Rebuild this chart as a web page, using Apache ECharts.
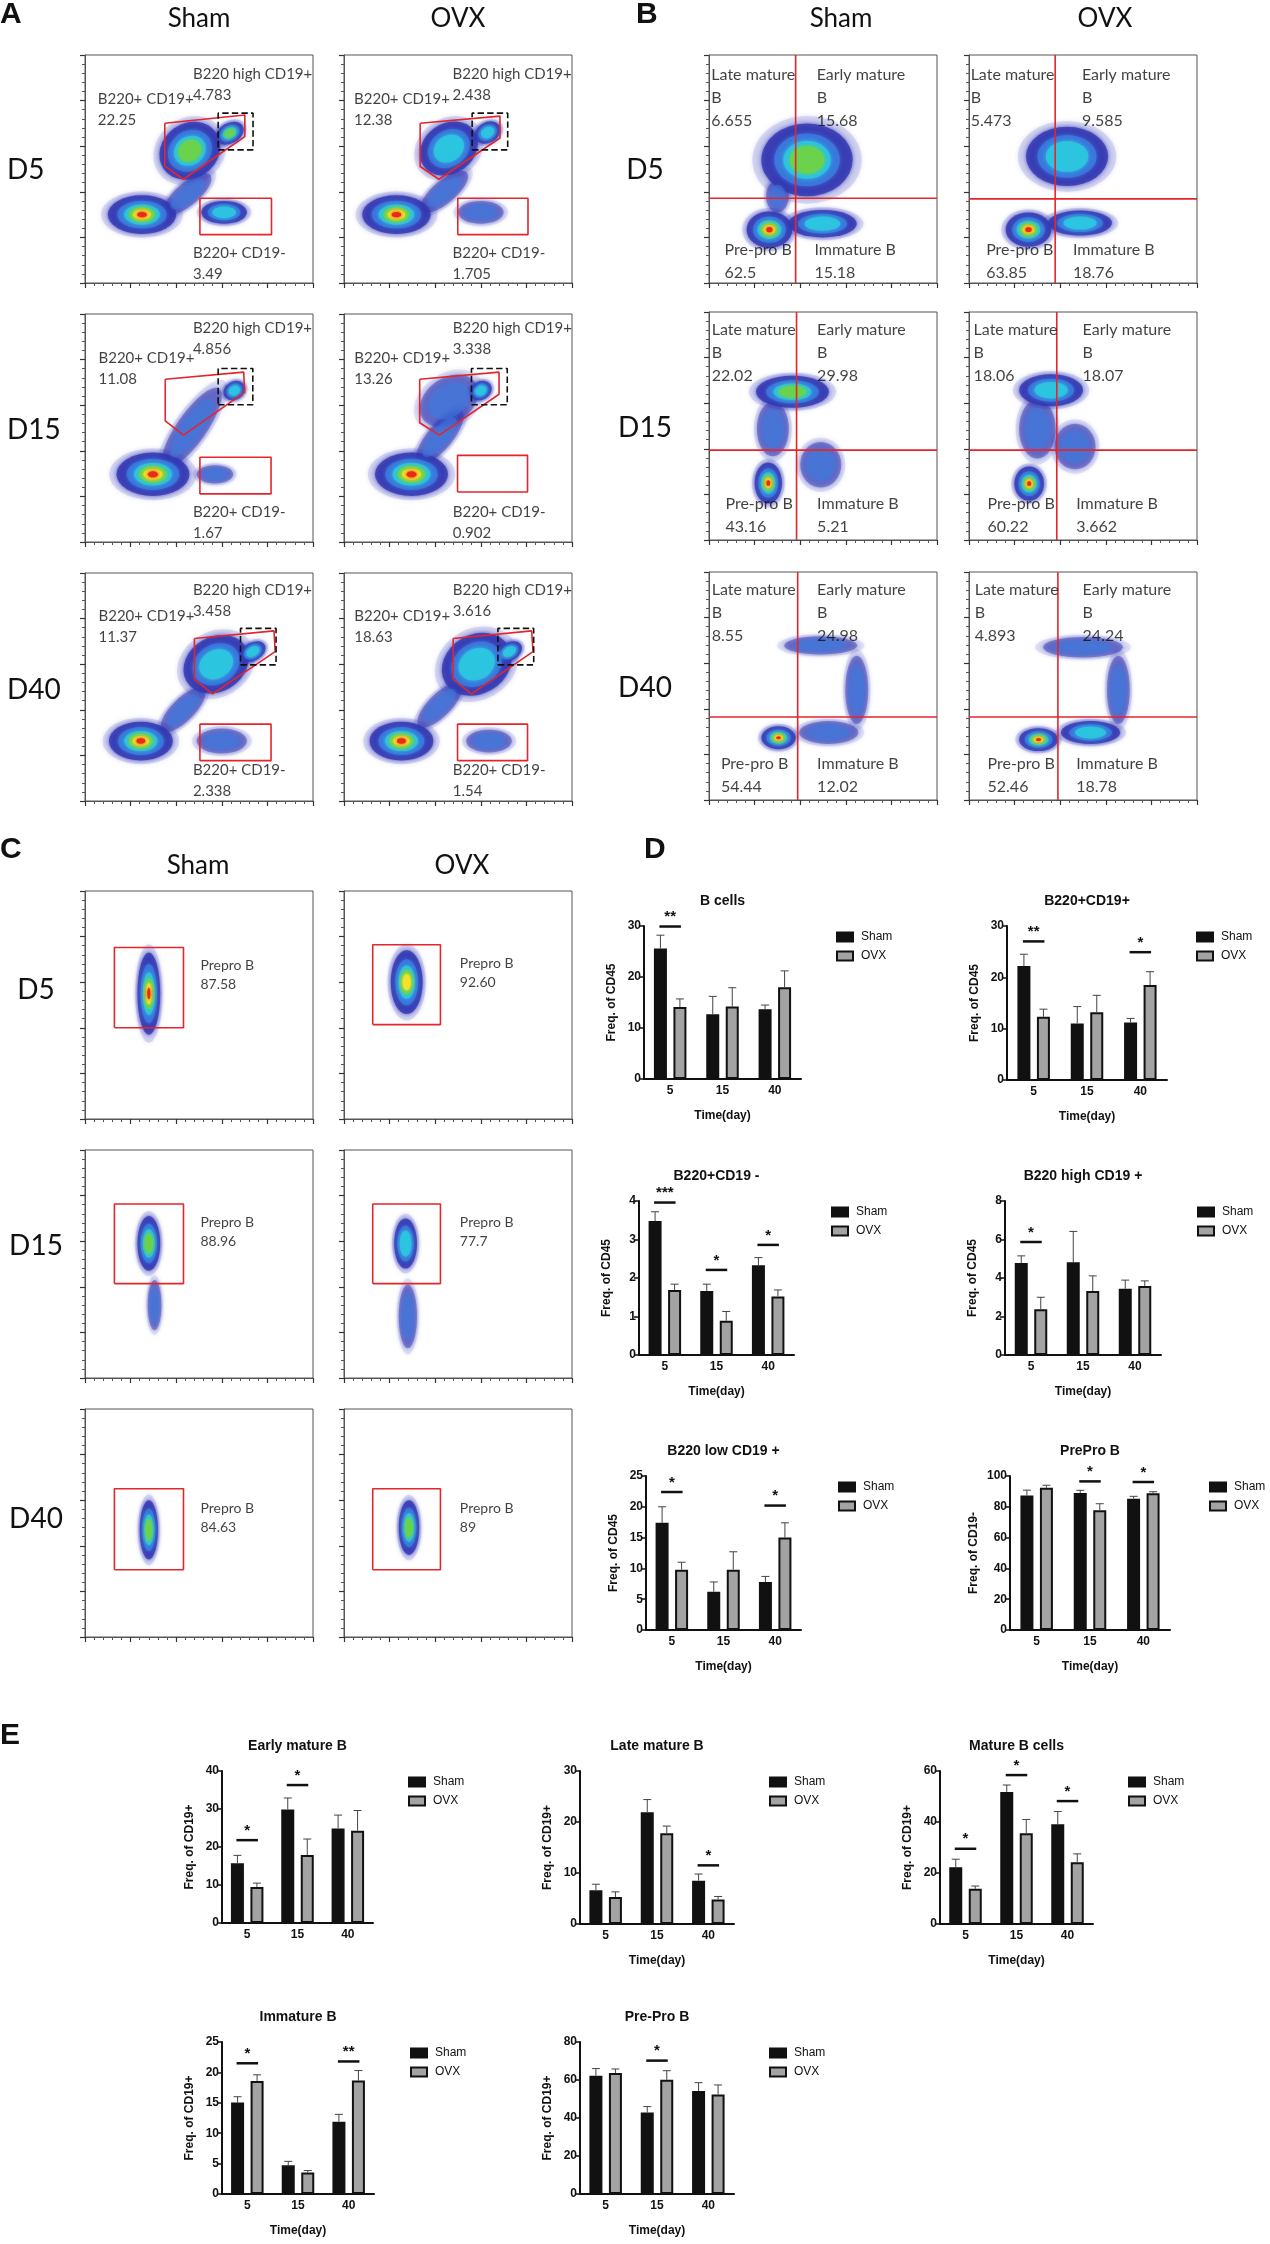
<!DOCTYPE html>
<html>
<head>
<meta charset="utf-8">
<script src="https://cdn.jsdelivr.net/npm/echarts@6/dist/echarts.min.js"></script>
<style>
  html, body { margin: 0; background: #fff; }
  #fig { width: 1270px; height: 2244px; }
</style>
</head>
<body>
<div id="fig"></div>
<script>
(function() {
  var arial = "'Liberation Sans', Arial, sans-serif";
  var lato = "Lato, 'Open Sans', sans-serif";

  // --- flow plots (A: 0-5, B: 6-11, C: 12-17), coordinates in % of the box ---
  var flowLeft = [85, 344, 85, 344, 85, 344, 709, 969, 709, 969, 709, 969, 85, 344, 85, 344, 85, 344];
  var flowTop = [55, 55, 314, 314, 573, 573, 55, 55, 312, 312, 572, 572, 891, 891, 1150, 1150, 1409, 1409];
  var FS = 228, PPU = FS / 100;

  // [panel, x, y, width, height, rotation, density level]
  var flowPops = [
    [0, 25, 30, 30, 17, 0, 5], [0, 45, 39, 26, 10, 40, 1], [0, 46, 58, 28, 24, 35, 3], [0, 63.5, 65.7, 13, 9, 30, 3], [0, 61, 31, 20, 10, 0, 2],
    [1, 23, 30, 30, 17, 0, 5], [1, 44, 40, 26, 10, 40, 1], [1, 46, 59, 27, 22, 35, 2], [1, 63, 66, 12, 9, 30, 2], [1, 60, 31, 20, 10, 0, 1],
    [2, 29.8, 29.7, 32, 19, 0, 5], [2, 46.8, 50, 42, 13, 55, 1], [2, 65.5, 66.4, 10, 8, 30, 2], [2, 57, 29.7, 16, 8, 0, 1],
    [3, 29.6, 29.7, 32, 19, 0, 5], [3, 42, 46, 30, 11, 50, 1], [3, 46, 62, 28, 20, 35, 1], [3, 60, 66.4, 10, 8, 30, 2],
    [4, 24.5, 26.3, 28, 17, 0, 5], [4, 43, 40, 26, 10, 45, 1], [4, 57.5, 60, 30, 24, 30, 2], [4, 73.6, 65.5, 12, 8, 30, 2], [4, 60, 26.3, 22, 11, 0, 1],
    [5, 25.2, 26.3, 28, 17, 0, 5], [5, 42, 42, 26, 10, 45, 1], [5, 58.2, 60, 32, 26, 30, 2], [5, 72.5, 65.5, 12, 8, 30, 2], [5, 63.6, 26.3, 20, 10, 0, 1],
    [6, 26.5, 23.4, 20, 16, 0, 5], [6, 49.8, 26, 30, 12, 0, 2], [6, 43, 54, 40, 32, 0, 3], [6, 30, 38, 10, 14, 0, 1],
    [7, 26.1, 23.4, 20, 15, 0, 5], [7, 48.7, 26.3, 28, 11, 0, 2], [7, 43, 55.5, 36, 26, 0, 2],
    [8, 26, 25, 12, 18, 0, 5], [8, 36.6, 65, 32, 14, 0, 3], [8, 28, 48.7, 14, 24, 0, 1], [8, 49, 33, 18, 20, 0, 1],
    [9, 26.4, 24.7, 13, 15, 0, 5], [9, 36, 65.7, 28, 14, 0, 2], [9, 30, 48.7, 16, 26, 0, 1], [9, 46.5, 41, 18, 20, 0, 1],
    [10, 30.5, 27.3, 15, 10, 0, 5], [10, 52.5, 29.6, 26, 10, 0, 1], [10, 49, 67.8, 32, 8, 0, 1], [10, 64.8, 48.3, 10, 30, 0, 1],
    [11, 30.5, 26.5, 17, 10, 0, 5], [11, 53.3, 29.6, 26, 10, 0, 2], [11, 50, 67, 35, 9, 0, 1], [11, 65.5, 48.3, 10, 30, 0, 1],
    [12, 28, 55, 10, 36, 0, 5],
    [13, 27.5, 60, 14, 28, 0, 4],
    [14, 28, 59, 10, 24, 0, 3], [14, 30.5, 32, 6, 22, 0, 1],
    [15, 27, 59, 10, 22, 0, 2], [15, 28, 27, 8, 28, 0, 1],
    [16, 28, 47, 8, 26, 0, 3],
    [17, 28.5, 48, 9, 24, 0, 3]
  ];

  var gatePolys = [
    [0, [[35, 70.1], [70.1, 73.7], [70.1, 64.2], [43.1, 45.5], [35, 51.4]]],
    [1, [[33.4, 70.1], [68.4, 73.2], [68.4, 63.6], [41.6, 45.5], [33.4, 51.1]]],
    [2, [[35.2, 71.4], [69.6, 74.5], [70, 65.6], [43.2, 46.9], [35.2, 53.1]]],
    [3, [[33.2, 71.4], [68, 74.5], [68, 64.8], [41.8, 46.9], [33.2, 52.3]]],
    [4, [[48, 71.3], [82.9, 74.6], [83.4, 65.5], [56, 47], [48, 53.3]]],
    [5, [[47.9, 71.3], [82.3, 74.6], [82.9, 65.5], [55.9, 47], [47.9, 53.3]]]
  ];
  // [panel, x0, x1, y0, y1]
  var dashRects = [
    [0, 58.4, 73.7, 58.4, 74.5], [1, 56.2, 71.8, 58.4, 74.5], [2, 58.4, 73.6, 60.2, 76.1],
    [3, 55.9, 71.6, 60.2, 76.1], [4, 68.2, 83.8, 59.7, 75.7], [5, 67.5, 83.2, 59.7, 75.7]
  ];
  var redRects = [
    [0, 50.4, 81.8, 21.2, 37.2], [1, 49.9, 80.7, 21.2, 37.2], [2, 50.4, 81.6, 21.1, 37.2],
    [3, 49.8, 80.5, 21.9, 38], [4, 50.4, 81.6, 17.7, 33.7], [5, 49.8, 80.5, 17.7, 33.7],
    [12, 12.9, 43.2, 40, 75.2], [13, 12.6, 42.3, 41.4, 76.4], [14, 12.9, 43.2, 41.4, 76.3],
    [15, 12.6, 42.3, 41.4, 76.3], [16, 12.9, 43.2, 29.5, 65], [17, 12.6, 42.3, 29.5, 65]
  ];
  // [panel, x line, y line]
  var quadLines = [[6, 38, 37.2], [7, 37.8, 36.9], [8, 38.4, 39.4], [9, 38.5, 39.4], [10, 38.9, 36.4], [11, 39, 36.4]];

  var flowLabels = [
    [0, 47.2, 87, 'B220 high CD19+\n4.783'], [0, 5.4, 76, 'B220+ CD19+\n22.25'], [0, 47.2, 8.5, 'B220+ CD19-\n3.49'],
    [1, 47.4, 87, 'B220 high CD19+\n2.438'], [1, 4.2, 76, 'B220+ CD19+\n12.38'], [1, 47.4, 8.5, 'B220+ CD19-\n1.705'],
    [2, 47.1, 89, 'B220 high CD19+\n4.856'], [2, 5.7, 76, 'B220+ CD19+\n11.08'], [2, 47.1, 8.3, 'B220+ CD19-\n1.67'],
    [3, 47.5, 89, 'B220 high CD19+\n3.338'], [3, 4.3, 76, 'B220+ CD19+\n13.26'], [3, 47.5, 8.3, 'B220+ CD19-\n0.902'],
    [4, 47.1, 88, 'B220 high CD19+\n3.458'], [4, 5.7, 76.5, 'B220+ CD19+\n11.37'], [4, 47.1, 9, 'B220+ CD19-\n2.338'],
    [5, 47.5, 88, 'B220 high CD19+\n3.616'], [5, 4.3, 76.5, 'B220+ CD19+\n18.63'], [5, 47.5, 9, 'B220+ CD19-\n1.54'],
    [6, 0.8, 81, 'Late mature\nB\n6.655'], [6, 47, 81, 'Early mature\nB\n15.68'], [6, 6.6, 9.5, 'Pre-pro B\n62.5'], [6, 46, 9.5, 'Immature B\n15.18'],
    [7, 0.5, 81, 'Late mature\nB\n5.473'], [7, 49.3, 81, 'Early mature\nB\n9.585'], [7, 7.3, 9.5, 'Pre-pro B\n63.85'], [7, 45.4, 9.5, 'Immature B\n18.76'],
    [8, 1, 82, 'Late mature\nB\n22.02'], [8, 47.2, 82, 'Early mature\nB\n29.98'], [8, 7, 11, 'Pre-pro B\n43.16'], [8, 47.2, 11, 'Immature B\n5.21'],
    [9, 1.8, 82, 'Late mature\nB\n18.06'], [9, 49.6, 82, 'Early mature\nB\n18.07'], [9, 7.9, 11, 'Pre-pro B\n60.22'], [9, 46.8, 11, 'Immature B\n3.662'],
    [10, 1, 82, 'Late mature\nB\n8.55'], [10, 47.2, 82, 'Early mature\nB\n24.98'], [10, 5, 11, 'Pre-pro B\n54.44'], [10, 47.2, 11, 'Immature B\n12.02'],
    [11, 2.3, 82, 'Late mature\nB\n4.893'], [11, 49.6, 82, 'Early mature\nB\n24.24'], [11, 7.9, 11, 'Pre-pro B\n52.46'], [11, 46.8, 11, 'Immature B\n18.78'],
    [12, 50.4, 63, 'Prepro B\n87.58'], [13, 50.6, 64, 'Prepro B\n92.60'], [14, 50.4, 64, 'Prepro B\n88.96'],
    [15, 50.6, 64, 'Prepro B\n77.7'], [16, 50.4, 52, 'Prepro B\n84.63'], [17, 50.6, 52, 'Prepro B\n89']
  ];

  // --- bar charts (D: 0-5, E: 6-10) ---
  var days = ['5', '15', '40'];
  var barTitles = ['B cells', 'B220+CD19+', 'B220+CD19 -', 'B220 high CD19 +', 'B220 low CD19 +', 'PrePro B',
                   'Early mature B', 'Late mature B', 'Mature B cells', 'Immature B', 'Pre-Pro B'];
  var barYNames = ['Freq. of CD45', 'Freq. of CD45', 'Freq. of CD45', 'Freq. of CD45', 'Freq. of CD45', 'Freq. of CD19-',
                   'Freq. of CD19+', 'Freq. of CD19+', 'Freq. of CD19+', 'Freq. of CD19+', 'Freq. of CD19+'];
  var barYMax = [30, 30, 4, 8, 25, 100, 40, 30, 60, 25, 80];
  var barYStep = [10, 10, 1, 2, 5, 20, 10, 10, 20, 5, 20];
  var shamMean = [
    [25.6, 12.7, 13.7], [22.2, 11.0, 11.2], [3.48, 1.66, 2.33], [4.78, 4.82, 3.44], [17.4, 6.2, 7.8], [87.3, 89.0, 85.3],
    [15.7, 29.9, 24.9], [6.6, 21.9, 8.5], [22.3, 51.8, 39.1], [15.05, 4.71, 11.9], [62.2, 42.9, 54.2]
  ];
  var shamErr = [
    [2.6, 3.5, 0.8], [2.3, 3.3, 0.8], [0.24, 0.18, 0.2], [0.37, 1.6, 0.45], [2.6, 1.6, 0.9], [3.5, 1.7, 1.5],
    [2.1, 3.0, 3.5], [1.2, 2.5, 1.3], [3.1, 2.7, 5.0], [0.95, 0.66, 1.2], [3.8, 3.1, 4.4]
  ];
  var ovxMean = [
    [14.1, 14.2, 18.0], [12.3, 13.2, 18.5], [1.69, 0.89, 1.52], [2.38, 3.32, 3.59], [9.8, 9.8, 15.0], [92.4, 77.8, 88.8],
    [9.5, 17.9, 24.3], [5.3, 17.8, 4.8], [13.8, 35.6, 24.2], [18.6, 3.53, 18.65], [63.7, 60.1, 52.4]
  ];
  var ovxErr = [
    [1.6, 3.7, 3.2], [1.5, 3.3, 2.6], [0.15, 0.24, 0.17], [0.62, 0.79, 0.26], [1.2, 2.9, 2.4], [1.6, 4.2, 1.0],
    [1.0, 4.2, 5.3], [1.0, 1.4, 0.6], [1.1, 5.4, 3.3], [1.0, 0.33, 1.65], [2.1, 4.8, 5.0]
  ];
  // [day index, bracket height, stars]
  var sigMarks = [
    [[0, 29.9, '**']], [[0, 27.0, '**'], [2, 24.9, '*']], [[0, 3.96, '***'], [1, 2.21, '*'], [2, 2.86, '*']],
    [[0, 5.87, '*']], [[0, 22.4, '*'], [2, 20.2, '*']], [[1, 96.5, '*'], [2, 96.1, '*']],
    [[0, 21.8, '*'], [1, 36.3, '*']], [[2, 11.5, '*']], [[0, 29.5, '*'], [1, 58.4, '*'], [2, 48.2, '*']],
    [[0, 21.5, '*'], [2, 21.8, '**']], [[1, 70.2, '*']]
  ];

  var barBox = [[644, 926, 157, 153], [1007, 926, 160, 154], [639, 1201, 155, 154], [1005, 1201, 156, 154],
                [646, 1476, 155, 154], [1010, 1476, 160, 154], [222, 1771, 151, 152], [580, 1771, 154, 153],
                [940, 1771, 153, 153], [222, 2042, 152, 152], [580, 2042, 154, 152]];
  var legendAt = [[836, 931], [1196, 931], [831, 1206], [1197, 1206], [838, 1481], [1209, 1481],
                  [408, 1776], [769, 1776], [1128, 1776], [410, 2047], [769, 2047]];

  var ringScale = [1.2, 1, 0.72, 0.52, 0.38, 0.26, 0.14];
  var ringColor = ['#4a53c6', '#3337b2', '#3b7ade', '#2cc5e0', '#6bd24a', '#f2e12c', '#ea2b19'];
  var ringAlpha = [0.16, 0.8, 0.85, 0.9, 0.92, 0.95, 1];

  var grids = [], xAxes = [], yAxes = [], series = [], legends = [], texts = [];

  function densityData(panel) {
    var out = [];
    flowPops.forEach(function(p) {
      if (p[0] !== panel) return;
      for (var r = 0; r <= p[6] + 1 && r < ringScale.length; r++) {
        var a = ringAlpha[r];
        if (p[6] === 1) a = r === 0 ? 0.12 : 0.45;
        out.push({
          ring: r,
          value: [p[1], p[2]],
          symbolSize: [p[3] * ringScale[r] * PPU, p[4] * ringScale[r] * PPU],
          symbolRotate: p[5],
          itemStyle: { color: ringColor[r], opacity: a, shadowBlur: 4, shadowColor: ringColor[r] }
        });
      }
    });
    out.sort(function(a, b) { return a.ring - b.ring; });
    return out;
  }

  function flowAxis(i) {
    return {
      gridIndex: i, type: 'value', min: 0, max: 100, interval: 20,
      axisLine: { show: true, onZero: false, lineStyle: { color: '#555', width: 1 } },
      axisTick: { show: true, length: 5, lineStyle: { color: '#333', width: 1.2 } },
      minorTick: { show: true, splitNumber: 5, length: 3, lineStyle: { color: '#555' } },
      axisLabel: { show: false },
      splitLine: { show: false }
    };
  }

  function gateLine(panel, pts, color, type) {
    return {
      type: 'line', xAxisIndex: panel, yAxisIndex: panel, data: pts, symbol: 'none', silent: true, z: 5,
      lineStyle: { color: color, width: 1.6, type: type }
    };
  }

  function rectPts(r) {
    return [[r[1], r[3]], [r[2], r[3]], [r[2], r[4]], [r[1], r[4]], [r[1], r[3]]];
  }

  for (var i = 0; i < 18; i++) {
    grids.push({ left: flowLeft[i], top: flowTop[i], width: FS, height: FS, show: true, borderColor: '#555', borderWidth: 1 });
    xAxes.push(flowAxis(i));
    yAxes.push(flowAxis(i));
    series.push({ type: 'scatter', xAxisIndex: i, yAxisIndex: i, silent: true, z: 2, data: densityData(i) });
    var fsz = i < 6 ? 15 : (i < 12 ? 16 : 14);
    var flh = i < 6 ? 21 : (i < 12 ? 23 : 19);
    series.push({
      type: 'scatter', xAxisIndex: i, yAxisIndex: i, silent: true, z: 6, symbolSize: 1,
      itemStyle: { color: 'rgba(0,0,0,0)' },
      data: flowLabels.filter(function(l) { return l[0] === i; }).map(function(l) {
        return { value: [l[1], l[2]], name: l[3] };
      }),
      label: { show: true, position: 'right', distance: 0, formatter: '{b}', color: '#111',
               fontFamily: lato, fontSize: fsz, lineHeight: flh }
    });
  }
  gatePolys.forEach(function(g) { series.push(gateLine(g[0], g[1].concat([g[1][0]]), '#e3262b', 'solid')); });
  dashRects.forEach(function(r) { series.push(gateLine(r[0], rectPts(r), '#111', 'dashed')); });
  redRects.forEach(function(r) { series.push(gateLine(r[0], rectPts(r), '#e3262b', 'solid')); });
  quadLines.forEach(function(q) {
    series.push(gateLine(q[0], [[q[1], 0], [q[1], 100]], '#e3262b', 'solid'));
    series.push(gateLine(q[0], [[0, q[2]], [100, q[2]]], '#e3262b', 'solid'));
  });

  var BW = 13, GAP = 0.5, OFF = BW * (1 + GAP) / 2;

  function errRender(offset) {
    return function(params, api) {
      var idx = api.value(0), mean = api.value(1), err = api.value(2);
      var base = api.coord([idx, mean]);
      var top = api.coord([idx, mean + err]);
      var x = base[0] + offset;
      return {
        type: 'group',
        children: [
          { type: 'line', shape: { x1: x, y1: base[1], x2: x, y2: top[1] }, style: { stroke: '#444', lineWidth: 1 } },
          { type: 'line', shape: { x1: x - 4, y1: top[1], x2: x + 4, y2: top[1] }, style: { stroke: '#444', lineWidth: 1 } }
        ]
      };
    };
  }

  function sigRender(marks) {
    return function(params, api) {
      var p = api.coord([api.value(0), api.value(1)]);
      return {
        type: 'group',
        children: [
          { type: 'line', shape: { x1: p[0] - OFF - 1, y1: p[1], x2: p[0] + OFF + 1, y2: p[1] }, style: { stroke: '#111', lineWidth: 2.5 } },
          { type: 'text', x: p[0], y: p[1] - 2,
            style: { text: marks[params.dataIndex][2], fill: '#111', font: 'bold 15px ' + arial, align: 'center', verticalAlign: 'bottom' } }
        ]
      };
    };
  }

  for (var c = 0; c < 11; c++) {
    var gi = 18 + c, b = barBox[c];
    grids.push({ left: b[0], top: b[1], width: b[2], height: b[3] });
    xAxes.push({
      gridIndex: gi, type: 'category', data: days,
      axisLine: { lineStyle: { color: '#111', width: 2 } },
      axisTick: { alignWithLabel: true, length: 5, lineStyle: { color: '#111', width: 1.5 } },
      axisLabel: { color: '#111', fontWeight: 'bold', fontFamily: arial, fontSize: 12, margin: 6 },
      name: c === 6 ? '' : 'Time(day)', nameLocation: 'middle', nameGap: 31,
      nameTextStyle: { color: '#111', fontWeight: 'bold', fontFamily: arial, fontSize: 12 }
    });
    yAxes.push({
      gridIndex: gi, type: 'value', min: 0, max: barYMax[c], interval: barYStep[c],
      axisLine: { show: true, lineStyle: { color: '#111', width: 2 } },
      axisTick: { show: true, length: 5, lineStyle: { color: '#111', width: 1.5 } },
      axisLabel: { color: '#111', fontWeight: 'bold', fontFamily: arial, fontSize: 12, margin: 3 },
      splitLine: { show: false },
      name: barYNames[c], nameLocation: 'middle', nameGap: barYMax[c] >= 100 ? 30 : 26,
      nameTextStyle: { color: '#111', fontWeight: 'bold', fontFamily: arial, fontSize: 12 }
    });
    series.push({
      name: 'Sham', type: 'bar', xAxisIndex: gi, yAxisIndex: gi, data: shamMean[c], barWidth: BW, barGap: (GAP * 100) + '%', z: 2,
      itemStyle: { color: '#111', borderColor: '#111', borderWidth: 1.5 }
    });
    series.push({
      name: 'OVX', type: 'bar', xAxisIndex: gi, yAxisIndex: gi, data: ovxMean[c], barWidth: BW, z: 2,
      itemStyle: { color: '#a3a3a3', borderColor: '#111', borderWidth: 2 }
    });
    series.push({
      type: 'custom', xAxisIndex: gi, yAxisIndex: gi, silent: true, z: 3, renderItem: errRender(-OFF),
      data: shamMean[c].map(function(v, k) { return [k, v, shamErr[c][k]]; })
    });
    series.push({
      type: 'custom', xAxisIndex: gi, yAxisIndex: gi, silent: true, z: 3, renderItem: errRender(OFF),
      data: ovxMean[c].map(function(v, k) { return [k, v, ovxErr[c][k]]; })
    });
    series.push({
      type: 'custom', xAxisIndex: gi, yAxisIndex: gi, silent: true, z: 4, renderItem: sigRender(sigMarks[c]),
      data: sigMarks[c].map(function(m) { return [m[0], m[1]]; })
    });
    legends.push({
      data: ['Sham', 'OVX'], orient: 'vertical', left: legendAt[c][0], top: legendAt[c][1], padding: 0,
      itemWidth: 16, itemHeight: 9, itemGap: 7, icon: 'rect', selectedMode: false,
      textStyle: { color: '#111', fontFamily: arial, fontSize: 12, padding: [0, 0, 0, 3] }
    });
    texts.push({ type: 'text', x: b[0] + b[2] / 2, y: b[1] - 25,
      style: { text: barTitles[c], fill: '#111', font: 'bold 14px ' + arial, align: 'center', verticalAlign: 'middle' } });
  }

  function txt(s, x, y, font, align) {
    texts.push({ type: 'text', x: x, y: y, style: { text: s, fill: '#111', font: font, align: align || 'center', verticalAlign: 'middle' } });
  }
  var letterFont = 'bold 30px ' + arial, headFont = '26px ' + lato, rowFont = '28px ' + lato;
  txt('A', 0, 15, letterFont, 'left');
  txt('B', 636, 15, letterFont, 'left');
  txt('C', 0, 850, letterFont, 'left');
  txt('D', 644, 850, letterFont, 'left');
  txt('E', 0, 1736, letterFont, 'left');
  txt('Sham', 199, 19, headFont); txt('OVX', 458, 19, headFont);
  txt('Sham', 841, 19, headFont); txt('OVX', 1105, 19, headFont);
  txt('Sham', 198, 866, headFont); txt('OVX', 462, 866, headFont);
  txt('D5', 7, 170, rowFont, 'left'); txt('D15', 7, 430, rowFont, 'left'); txt('D40', 7, 690, rowFont, 'left');
  txt('D5', 645, 170, rowFont); txt('D15', 645, 428, rowFont); txt('D40', 645, 688, rowFont);
  txt('D5', 36, 990, rowFont); txt('D15', 36, 1246, rowFont); txt('D40', 36, 1519, rowFont);

  var chart = echarts.init(document.getElementById('fig'));
  chart.setOption({
    animation: false,
    backgroundColor: '#fff',
    grid: grids,
    xAxis: xAxes,
    yAxis: yAxes,
    legend: legends,
    series: series,
    graphic: { elements: texts }
  });
  window.addEventListener('resize', function() { chart.resize(); });
})();
</script>
</body>
</html>
